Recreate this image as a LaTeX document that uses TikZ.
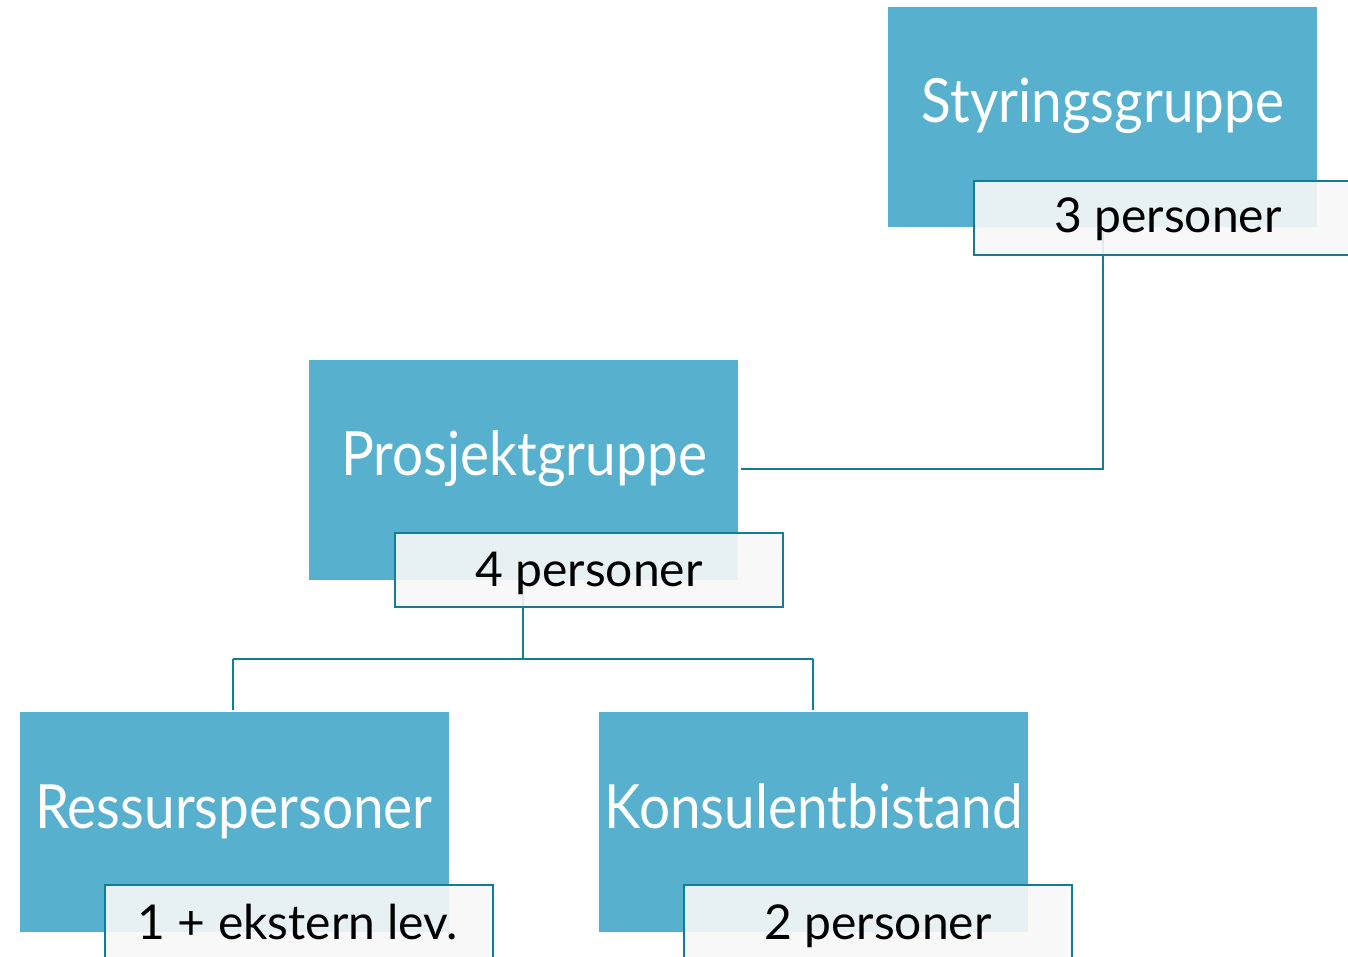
\documentclass[tikz,border=0pt]{standalone}
\usepackage{fontspec}
\setmainfont{Lato}
\newfontfamily\narrowlato{Lato}[FakeStretch=0.9]
\begin{document}
\begin{tikzpicture}[x=1pt,y=-1pt,
  bigbox/.style={fill=boxblue, draw=none, minimum width=429pt, minimum height=220pt, inner sep=0pt, anchor=north west},
  bigtext/.style={text=white, font=\narrowlato\fontsize{61}{61}\selectfont, anchor=base, inner sep=0pt},
  tagbox/.style={fill=tagfill, fill opacity=0.9, draw=teal, line width=2.2pt, minimum width=388pt, minimum height=74pt, inner sep=0pt, anchor=north west},
  tagtext/.style={text=black, font=\fontsize{48}{48}\selectfont, anchor=base, inner sep=0pt},
  conn/.style={draw=teal, line width=2.6pt}]
\definecolor{boxblue}{HTML}{57B0CD}
\definecolor{tagfill}{HTML}{F7F7F7}
\definecolor{teal}{HTML}{127D99}
\useasboundingbox (0,0) rectangle (1348,957);
\clip (0,0) rectangle (1348,957);
% big boxes
\node[bigbox] (sty) at (888,7) {};
\node[bigbox] (pro) at (309,360) {};
\node[bigbox] (res) at (20,712) {};
\node[bigbox] (kon) at (599,712) {};
% connectors
\coordinate (j1) at (1103,469);
\coordinate (h0) at (523,659);
\coordinate (hl) at (233,659);
\coordinate (hr) at (813,659);
\draw[conn] (sty.south -| j1) -- (j1) -- (741,469);
\draw[conn] (pro.south -| h0) -- (h0);
\draw[conn] (hl) -- (hr);
\draw[conn] (hl) -- (233,710);
\draw[conn] (hr) -- (813,710);
% titles
\node[bigtext] (styT) at (1103,123) {Styringsgruppe};
\node[bigtext] (proT) at (524,475) {Prosjektgruppe};
\node[bigtext] (resT) at (234,828) {Ressurspersoner};
\node[bigtext] (konT) at (814,828) {Konsulentbistand};
% tags
\node[tagbox] (styL) at (973,180) {};
\node[tagbox] (proL) at (394,532) {};
\node[tagbox] (resL) at (104,884) {};
\node[tagbox] (konL) at (683,884) {};
\node[tagtext] (styLT) at (1168,233) {3 personer};
\node[tagtext] (proLT) at (589,586) {4 personer};
\node[tagtext] (resLT) at (298,939) {1 + ekstern lev.};
\node[tagtext] (konLT) at (878,939) {2 personer};
\end{tikzpicture}
\end{document}
